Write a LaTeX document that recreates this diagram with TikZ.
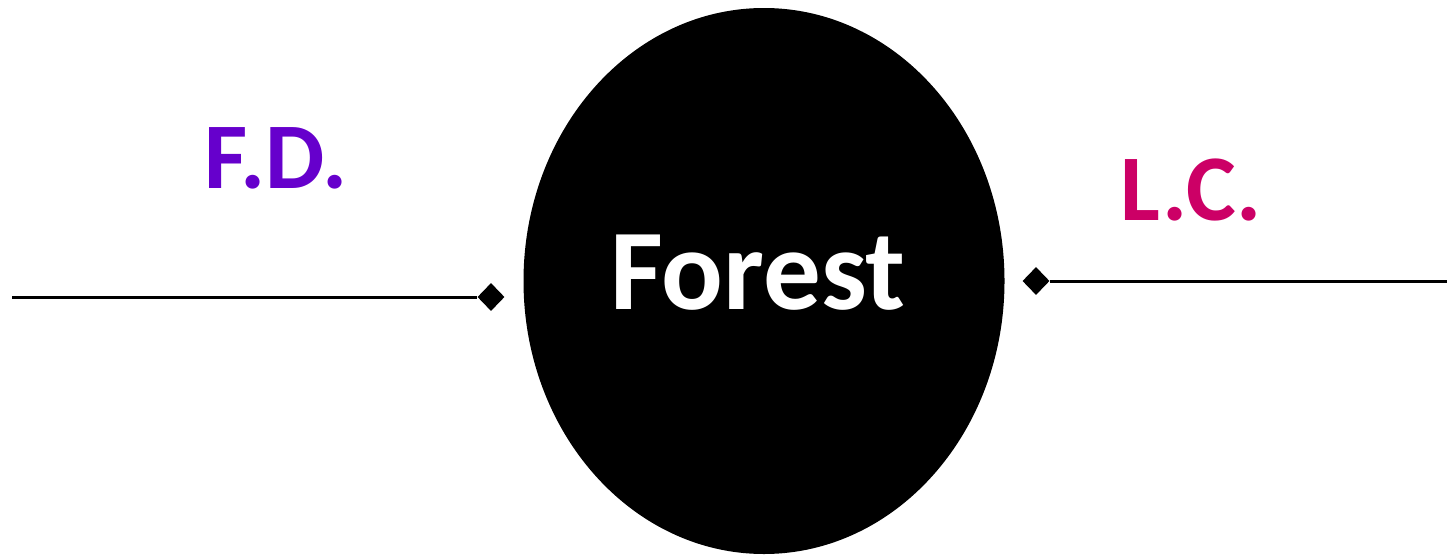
\documentclass[tikz,border=0pt]{standalone}
\usepackage{fontspec}
\setmainfont{Carlito}
\usetikzlibrary{shapes.geometric}
\definecolor{fdcol}{HTML}{6600CC}
\definecolor{lccol}{HTML}{CC0066}
\tikzset{
  blob/.style={ellipse, fill=black, draw=none, minimum width=481pt, minimum height=546pt, inner sep=0pt},
  tipmark/.style={diamond, fill=black, draw=none, minimum width=27pt, minimum height=28pt, inner sep=0pt},
  wire/.style={line width=3pt, black},
  lbl/.style={font=\fontsize{94}{100}\selectfont\bfseries, anchor=base, inner sep=0pt}
}
\begin{document}
\begin{tikzpicture}[x=1pt,y=-1pt]
\useasboundingbox (0,0) rectangle (1447,554);
\node[blob] (forest) at (764,281) {};
\node[font=\fontsize{115}{120}\selectfont\bfseries, text=white, anchor=base, inner sep=0pt] (ftext) at (758,309) {Forest};
\node[tipmark] (dl) at (491,297) {};
\node[tipmark] (dr) at (1036,281) {};
\coordinate (l0) at (12,297);
\coordinate (r0) at (1447,281);
\draw[wire] (l0) -- (dl.west);
\draw[wire] (dr.east) -- (r0);
\node[lbl, text=fdcol] (fd) at (276,188) {F.D.};
\node[lbl, text=lccol] (lc) at (1191,220) {L.C.};
\end{tikzpicture}
\end{document}
